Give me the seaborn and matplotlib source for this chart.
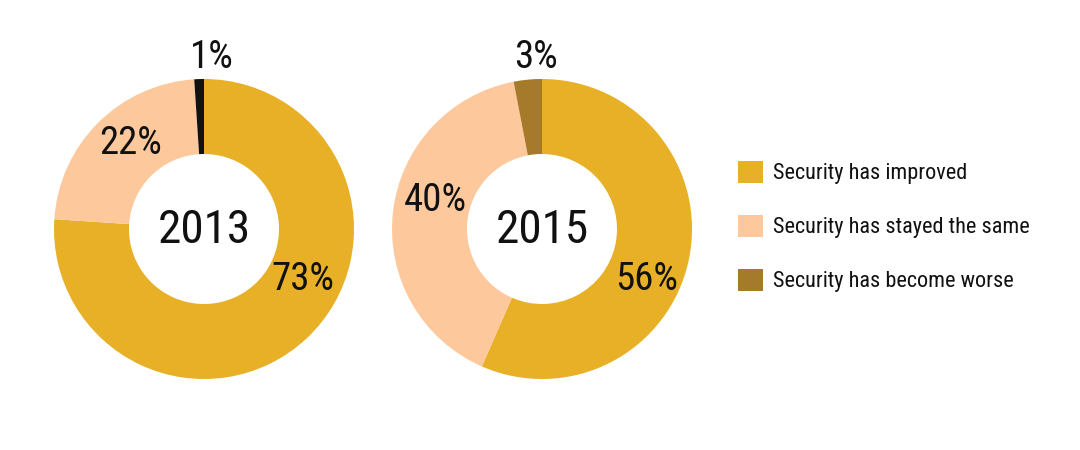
import matplotlib.pyplot as plt
import seaborn as sns
from matplotlib.patches import Patch

categories = ['Security has improved', 'Security has stayed the same', 'Security has become worse']
years = ['2013', '2015']
values_2013 = [73, 22, 1]
values_2015 = [56, 40, 3]

colors_2013 = ['#E7B027', '#FDC99C', '#111111']
colors_2015 = ['#E7B027', '#FDC99C', '#A67A2B']
legend_colors = ['#E7B027', '#FDC99C', '#A67A2B']

# hand-placed label spots (in pie radius units) for each donut
label_pos_2013 = [(0.66, -0.34), (-0.49, 0.57), (0.053, 1.14)]
label_pos_2015 = [(0.70, -0.337), (-0.713, 0.19), (-0.04, 1.145)]

sns.set_theme(style='white')
plt.rcParams['font.family'] = ['Roboto Condensed', 'Liberation Sans Narrow', 'DejaVu Sans']
txt = '#111111'

fig = plt.figure(figsize=(10.8, 4.5), dpi=100)

def donut(ax, vals, cols, year, label_pos):
    ax.pie(vals, colors=cols, startangle=90, counterclock=False,
           wedgeprops=dict(width=0.5, linewidth=0))
    ax.set_xlim(-1, 1)
    ax.set_ylim(-1, 1)
    ax.set_aspect('equal')
    ax.axis('off')
    ax.text(0, -0.005, year, ha='center', va='center', fontsize=34, color=txt)
    for v, (x, y) in zip(vals, label_pos):
        ax.text(x, y, f'{v}%', ha='center', va='center', fontsize=28, color=txt, clip_on=False)

ax1 = fig.add_axes([54 / 1080, 71 / 450, 300 / 1080, 300 / 450])
ax2 = fig.add_axes([392 / 1080, 71 / 450, 300 / 1080, 300 / 450])
donut(ax1, values_2013, colors_2013, years[0], label_pos_2013)
donut(ax2, values_2015, colors_2015, years[1], label_pos_2015)

handles = [Patch(facecolor=c, edgecolor='none') for c in legend_colors]
fig.legend(handles, categories, loc='upper left', bbox_to_anchor=(729 / 1080, 1 - 152 / 450),
           frameon=False, fontsize=16, handlelength=1.12, handleheight=1.12,
           handletextpad=0.45, labelspacing=1.38, borderaxespad=0, labelcolor=txt)

fig.savefig('out.png', dpi=100)
